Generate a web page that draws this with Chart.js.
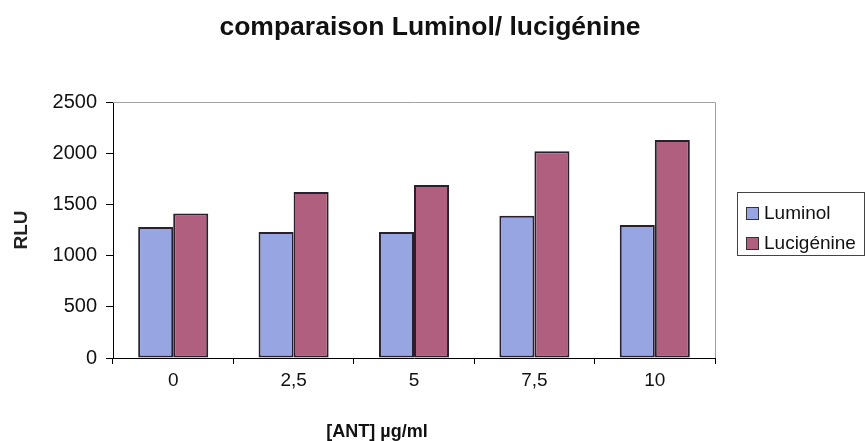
<!DOCTYPE html>
<html>
<head>
<meta charset="utf-8">
<script src="https://cdn.jsdelivr.net/npm/chart.js@4.4.0/dist/chart.umd.min.js"></script>
<style>
  body { margin: 0; background: #fff; font-family: Arial, "Liberation Sans", sans-serif; }
  #wrap { position: relative; width: 867px; height: 441px; overflow: hidden; }
  #title { position: absolute; left: 0; top: 13px; width: 860px; text-align: center;
           font: bold 26.5px Arial, "Liberation Sans", sans-serif; line-height: 26px; color: #111; }
  #xtitle { position: absolute; left: 277px; top: 421px; width: 200px; text-align: center;
            font: bold 18px Arial, "Liberation Sans", sans-serif; line-height: 20px; color: #111; }
  #legend { position: absolute; left: 737px; top: 192px; width: 128px; height: 64px;
            border: 1px solid #444; box-sizing: border-box; padding-top: 5px; }
  .item { height: 30px; display: flex; align-items: center; font-size: 19px; color: #111; }
  .sw { width: 11px; height: 11px; border: 1px solid #333; margin: 0 5px 0 8px; }
</style>
</head>
<body>
<div id="wrap">
  <canvas id="c" width="867" height="441"></canvas>
  <div id="title">comparaison Luminol/ lucigénine</div>
  <div id="xtitle">[ANT] µg/ml</div>
  <div id="legend"></div>
</div>
<script>
// données
const categories = ["0", "2,5", "5", "7,5", "10"];
const luminol = [1280, 1230, 1230, 1390, 1300];
const lucigenine = [1410, 1620, 1690, 2020, 2130];
const yTicks = [0, 500, 1000, 1500, 2000, 2500];

const seriesNames = ["Luminol", "Lucigénine"];
const colors = ["#97a5e3", "#b0607e"];

// bordure grise du haut et de droite (zone de traçage)
const plotBorder = {
  id: "plotBorder",
  beforeDatasetsDraw(chart) {
    const { ctx, chartArea: a } = chart;
    ctx.save();
    ctx.strokeStyle = "#a0a0a8";
    ctx.lineWidth = 1;
    ctx.beginPath();
    ctx.moveTo(a.left, a.top + 0.5);
    ctx.lineTo(a.right + 0.5, a.top + 0.5);
    ctx.lineTo(a.right + 0.5, a.bottom);
    ctx.stroke();
    ctx.restore();
  }
};

const chart = new Chart(document.getElementById("c"), {
  type: "bar",
  data: {
    labels: categories,
    datasets: [
      { label: seriesNames[0], data: luminol, backgroundColor: colors[0] },
      { label: seriesNames[1], data: lucigenine, backgroundColor: colors[1] }
    ]
  },
  options: {
    responsive: false,
    animation: false,
    layout: { padding: { left: 0, top: 102, right: 152, bottom: 0 } },
    datasets: {
      bar: {
        categoryPercentage: 0.582,
        barPercentage: 1,
        borderWidth: 2,
        borderColor: "#2a1f2e",
        borderSkipped: false
      }
    },
    plugins: {
      legend: { display: false },
      title: { display: false },
      tooltip: { enabled: false }
    },
    scales: {
      x: {
        offset: true,
        grid: { drawOnChartArea: false, offset: true, tickLength: 6, color: "#000" },
        border: { color: "#000", width: 1 },
        ticks: { color: "#111", padding: 5, font: { family: "Arial, 'Liberation Sans'", size: 19 } },
        afterFit(s) { s.height = 83; }
      },
      y: {
        min: 0,
        max: 2500,
        afterBuildTicks(s) { s.ticks = yTicks.map(v => ({ value: v })); },
        grid: { drawOnChartArea: false, tickLength: 7, color: "#000" },
        border: { color: "#000", width: 1 },
        ticks: {
          color: "#111", padding: 9,
          font: { family: "Arial, 'Liberation Sans'", size: 20 },
          callback: v => String(v)
        },
        title: {
          display: true,
          text: "RLU",
          color: "#222",
          padding: { top: 10, bottom: 0 },
          font: { family: "Arial, 'Liberation Sans'", size: 19, weight: "bold" }
        },
        afterFit(s) { s.width = 113; }
      }
    }
  },
  plugins: [plotBorder]
});

// légende à droite
const legend = document.getElementById("legend");
seriesNames.forEach((name, i) => {
  const row = document.createElement("div");
  row.className = "item";
  row.innerHTML = `<span class="sw" style="background:${colors[i]}"></span><span>${name}</span>`;
  legend.appendChild(row);
});
</script>
</body>
</html>
